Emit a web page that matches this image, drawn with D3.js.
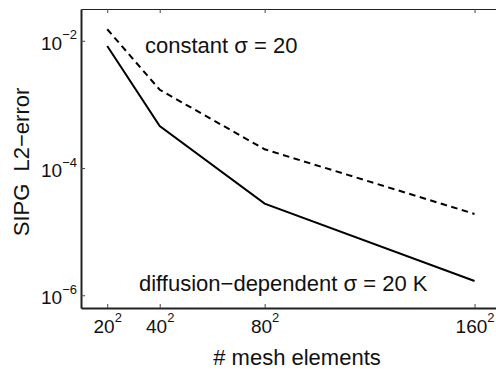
<!DOCTYPE html>
<html>
<head>
<meta charset="utf-8">
<script src="https://cdn.jsdelivr.net/npm/d3@7"></script>
<style>
  body { margin: 0; background: #fff; }
  svg text { font-family: "Liberation Sans", Arial, Helvetica, sans-serif; }
</style>
</head>
<body>
<div id="graph"></div>
<script>
// mesh resolution n, the plot shows n^2 elements
var meshN = [20, 40, 80, 160];
var errConstant = [1.52e-2, 1.70e-3, 1.97e-4, 1.90e-5];
var errDiffusion = [8.3e-3, 4.56e-4, 2.76e-5, 1.68e-6];
var yTickExp = [-6, -4, -2];

var W = 496, H = 372;
var plotLeft = 81, plotTop = 9, plotBottom = 308;

var svg = d3.select("#graph")
  .append("svg")
  .attr("width", W)
  .attr("height", H)
  .style("display", "block");

var x = d3.scaleLinear().domain([10, 170]).range([plotLeft, plotLeft + 160 * 2.6236]);
var y = d3.scaleLog().domain([Math.pow(10, -6.2), Math.pow(10, -1.5)]).range([plotBottom, plotTop]);

// top border with ticks
var xTop = d3.axisTop(x).tickValues(meshN).tickSizeInner(-4).tickSizeOuter(0).tickFormat("");
svg.append("g")
  .attr("transform", "translate(0," + plotTop + ")")
  .call(xTop)
  .call(g => g.select(".domain").attr("stroke", "#222").attr("stroke-width", 1.2))
  .call(g => g.selectAll(".tick line").attr("stroke", "#444"));

// bottom axis
var xAxis = d3.axisBottom(x).tickValues(meshN).tickSizeInner(-4).tickSizeOuter(0).tickFormat("");
var gx = svg.append("g")
  .attr("transform", "translate(0," + plotBottom + ")")
  .call(xAxis);
gx.select(".domain").attr("stroke", "#222").attr("stroke-width", 2);
gx.selectAll(".tick line").attr("stroke", "#444");
gx.selectAll(".tick").each(function(d){
  var t = d3.select(this).append("text")
    .attr("y", 25)
    .attr("text-anchor", "middle")
    .attr("fill", "#111")
    .style("font-size", "19px");
  t.append("tspan").text(d);
  t.append("tspan").attr("dy", -11).style("font-size", "13px").text("2");
});

// left axis
var yAxis = d3.axisLeft(y).tickValues(yTickExp.map(e => Math.pow(10, e))).tickSizeInner(-4).tickSizeOuter(0).tickFormat("");
var gy = svg.append("g")
  .attr("transform", "translate(" + plotLeft + ",0)")
  .call(yAxis);
gy.select(".domain").attr("stroke", "#222").attr("stroke-width", 2);
gy.selectAll(".tick line").attr("stroke", "#444");
gy.selectAll(".tick").each(function(d, i){
  var t = d3.select(this).append("text")
    .attr("x", -4)
    .attr("y", 8.5)
    .attr("text-anchor", "end")
    .attr("fill", "#111")
    .style("font-size", "19px");
  t.append("tspan").text("10");
  t.append("tspan").attr("dy", -10.5).style("font-size", "13px").text("\u2212" + Math.abs(yTickExp[i]));
});

var line = d3.line()
  .x(function(d){ return x(d.n); })
  .y(function(d){ return y(d.err); });

function pairs(vals) {
  return meshN.map(function(n, i){ return {n: n, err: vals[i]}; });
}

svg.append("path")
  .datum(pairs(errConstant))
  .attr("d", line)
  .attr("fill", "none")
  .attr("stroke", "#000")
  .attr("stroke-width", 2)
  .attr("stroke-dasharray", "6.5,4.5");

svg.append("path")
  .datum(pairs(errDiffusion))
  .attr("d", line)
  .attr("fill", "none")
  .attr("stroke", "#000")
  .attr("stroke-width", 2);

// annotations
svg.append("text")
  .attr("x", 145).attr("y", 53)
  .attr("fill", "#111")
  .style("font-size", "22px")
  .text("constant \u03c3 = 20");

svg.append("text")
  .attr("x", 139).attr("y", 291)
  .attr("fill", "#111")
  .style("font-size", "22px")
  .text("diffusion\u2212dependent \u03c3 = 20 K");

// axis titles
svg.append("text")
  .attr("x", 297).attr("y", 365)
  .attr("text-anchor", "middle")
  .attr("fill", "#111")
  .style("font-size", "22px")
  .text("# mesh elements");

svg.append("text")
  .attr("transform", "translate(28.5,162) rotate(-90)")
  .attr("text-anchor", "middle")
  .attr("fill", "#111")
  .style("font-size", "22px")
  .style("white-space", "pre")
  .text("SIPG  L2\u2212error");
</script>
</body>
</html>
